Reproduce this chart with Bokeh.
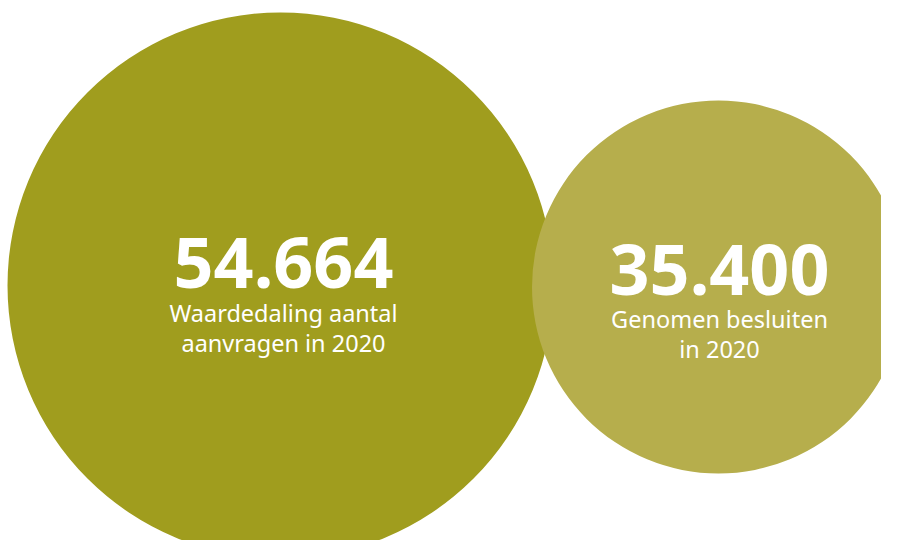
from bokeh.plotting import figure
from bokeh.models import Range1d, ColumnDataSource
from bokeh.core.properties import value
from bokeh.embed import file_html
from bokeh.resources import INLINE

# data
values = [54664, 35400]
labels = ["Waardedaling aantal\naanvragen in 2020", "Genomen besluiten\nin 2020"]
colors = ["#A09D1E", "#B6AE4C"]

# layout (pixel coordinates)
center_x = [280, 718]
center_y = [285, 286.5]
radius = [273, 186.5]
text_x = [283, 719]
num_y = [262, 268.5]
line1_y = [312, 318]
line_gap = 30
FONT = "Noto Sans"

W, H = 881, 540
p = figure(width=W, height=H, output_backend="svg", toolbar_location=None,
           x_range=Range1d(0, W), y_range=Range1d(H, 0),
           min_border=0, outline_line_color=None)
p.axis.visible = False
p.grid.visible = False
p.background_fill_color = "white"
p.border_fill_color = "white"

src = ColumnDataSource(dict(x=center_x, y=center_y, r=radius, c=colors))
p.circle(x="x", y="y", radius="r", radius_dimension="x", fill_color="c",
         line_color=None, source=src)

def fmt(v):
    return f"{v:,}".replace(",", ".")

p.text(x=text_x, y=num_y, text=[fmt(v) for v in values],
       text_font=value(FONT), text_font_style="bold",
       text_font_size="70px", text_color="white",
       text_align="center", text_baseline="alphabetic")

l1 = [l.split("\n")[0] for l in labels]
l2 = [l.split("\n")[1] for l in labels]
p.text(x=text_x, y=line1_y, text=l1,
       text_font=value(FONT), text_font_size="23.5px", text_color="white",
       text_align="center", text_baseline="alphabetic")
p.text(x=text_x, y=[b + line_gap for b in line1_y], text=l2,
       text_font=value(FONT), text_font_size="23.5px", text_color="white",
       text_align="center", text_baseline="alphabetic")

open("out.html", "w").write(file_html(p, INLINE))
